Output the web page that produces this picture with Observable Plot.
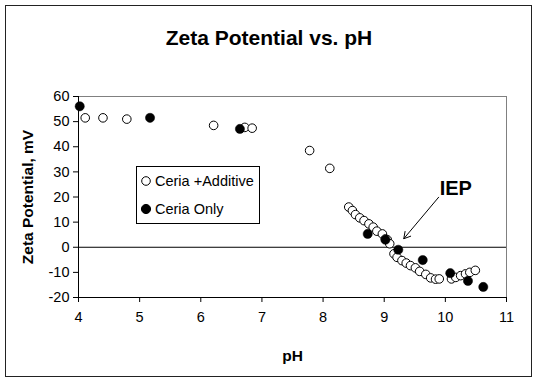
<!DOCTYPE html>
<html>
<head>
<meta charset="utf-8">
<script src="https://cdn.jsdelivr.net/npm/d3@7"></script>
<script src="https://cdn.jsdelivr.net/npm/@observablehq/plot@0.6"></script>
<style>
  html, body { margin: 0; padding: 0; background: #fff; }
  #wrap { position: relative; width: 537px; height: 379px; font-family: "Liberation Sans", Arial, sans-serif; }
  #legend { position: absolute; left: 136px; top: 166px; width: 122px; height: 56px; border: 1px solid #000; background: #fff; font-size: 14.5px; color: #000; }
  .entry { position: absolute; left: 0; display: flex; align-items: center; height: 20px; }
  .entry svg { margin-left: 3px; margin-right: 3px; }
</style>
</head>
<body>
<div id="wrap"></div>
<script>
// ---- data ----
const title = "Zeta Potential vs. pH";
const xLabel = "pH";
const yLabel = "Zeta Potential, mV";
const seriesNames = ["Ceria +Additive", "Ceria Only"];
const xTicks = [4, 5, 6, 7, 8, 9, 10, 11];
const yTicks = [-20, -10, 0, 10, 20, 30, 40, 50, 60];

const additivePH   = [4.11, 4.40, 4.79, 6.21, 6.72, 6.84, 7.78, 8.11, 8.42, 8.48, 8.53, 8.60, 8.67, 8.75, 8.82, 8.88, 8.97, 9.02, 9.05, 9.09, 9.16, 9.21, 9.29, 9.36, 9.43, 9.51, 9.58, 9.68, 9.76, 9.84, 9.90, 10.10, 10.17, 10.25, 10.33, 10.40, 10.49];
const additiveZeta = [51.5, 51.5, 51.0, 48.5, 47.7, 47.4, 38.5, 31.4, 16.0, 14.6, 13.0, 11.7, 10.6, 9.3, 8.0, 6.4, 5.3, 3.3, 3.0, 1.4, -2.6, -4.0, -5.3, -6.3, -7.3, -8.2, -9.6, -10.8, -12.2, -12.7, -12.6, -12.6, -12.0, -11.3, -10.6, -10.0, -9.2];

const onlyPH   = [4.02, 5.17, 6.64, 8.73, 9.02, 9.23, 9.63, 10.08, 10.37, 10.62];
const onlyZeta = [56.1, 51.5, 47.1, 5.3, 3.0, -1.0, -5.1, -10.3, -13.4, -15.8];

const iepLabel = "IEP";
const iepText = [{x: 10.17, y: 23.2}];
const iepArrow = [{x1: 9.89, y1: 19.9, x2: 9.32, y2: 3.4}];

// ---- build ----
const additive = additivePH.map((x, i) => ({x, y: additiveZeta[i]}));
const only = onlyPH.map((x, i) => ({x, y: onlyZeta[i]}));
const font = "'Liberation Sans', Arial, sans-serif";

const chart = Plot.plot({
  width: 537,
  height: 379,
  marginLeft: 78,
  marginRight: 31,
  marginTop: 96,
  marginBottom: 82,
  style: { fontFamily: font, fontSize: "14.5px", color: "#000", background: "#fff", overflow: "visible" },
  x: { domain: [4, 11] },
  y: { domain: [-20, 60] },
  marks: [
    Plot.frame({ stroke: "#808080" }),
    Plot.ruleY([0], { stroke: "#000" }),
    Plot.axisX({ ticks: xTicks, tickFormat: d => String(d), tickSize: 5, tickPadding: 9, label: null, fontSize: 14.5, stroke: "#000", fill: "#000", strokeOpacity: 1 }),
    Plot.axisY({ ticks: yTicks, tickFormat: d => String(d), tickSize: 5, tickPadding: 4, label: null, fontSize: 14.5, stroke: "#000", fill: "#000", strokeOpacity: 1 }),
    Plot.ruleX([4], { stroke: "#000" }),
    Plot.ruleY([-20], { stroke: "#000" }),
    Plot.dot(additive, { x: "x", y: "y", r: 4.3, fill: "#fff", stroke: "#000", strokeWidth: 1 }),
    Plot.dot(only, { x: "x", y: "y", r: 4.6, fill: "#000", stroke: "#000", strokeWidth: 0.5 }),
    Plot.arrow(iepArrow, { x1: "x1", y1: "y1", x2: "x2", y2: "y2", stroke: "#000", strokeWidth: 1, headLength: 11 }),
    Plot.text(iepText, { x: "x", y: "y", text: () => iepLabel, fontSize: 20, fontWeight: "bold", fill: "#000" }),
    Plot.text([title], { frameAnchor: "top", lineAnchor: "middle", textAnchor: "middle", dx: -23.5, dy: -58, fontSize: 21, fontWeight: "bold", fill: "#000" }),
    Plot.text([xLabel], { frameAnchor: "bottom", lineAnchor: "middle", textAnchor: "middle", dy: 59, fontSize: 15.5, fontWeight: "bold", fill: "#000" }),
    Plot.text([yLabel], { frameAnchor: "left", lineAnchor: "middle", textAnchor: "middle", dx: -50, rotate: -90, fontSize: 15.5, fontWeight: "bold", fill: "#000" })
  ]
});

const wrap = document.getElementById("wrap");
wrap.appendChild(chart);
d3.select(chart).append("rect")
  .attr("x", 5.5).attr("y", 5.5).attr("width", 526).attr("height", 371)
  .attr("fill", "none").attr("stroke", "#222").attr("stroke-width", 1);

// legend
const legend = document.createElement("div");
legend.id = "legend";
const styles = [{fill: "#fff", stroke: "#000"}, {fill: "#000", stroke: "#000"}];
seriesNames.forEach((name, i) => {
  const e = document.createElement("div");
  e.className = "entry";
  e.style.top = (4 + i * 28) + "px";
  e.innerHTML = `<svg width="12" height="12"><circle cx="6" cy="6" r="${i ? 4.6 : 4.3}" fill="${styles[i].fill}" stroke="${styles[i].stroke}"/></svg><span>${name}</span>`;
  legend.appendChild(e);
});
wrap.appendChild(legend);
</script>
</body>
</html>
